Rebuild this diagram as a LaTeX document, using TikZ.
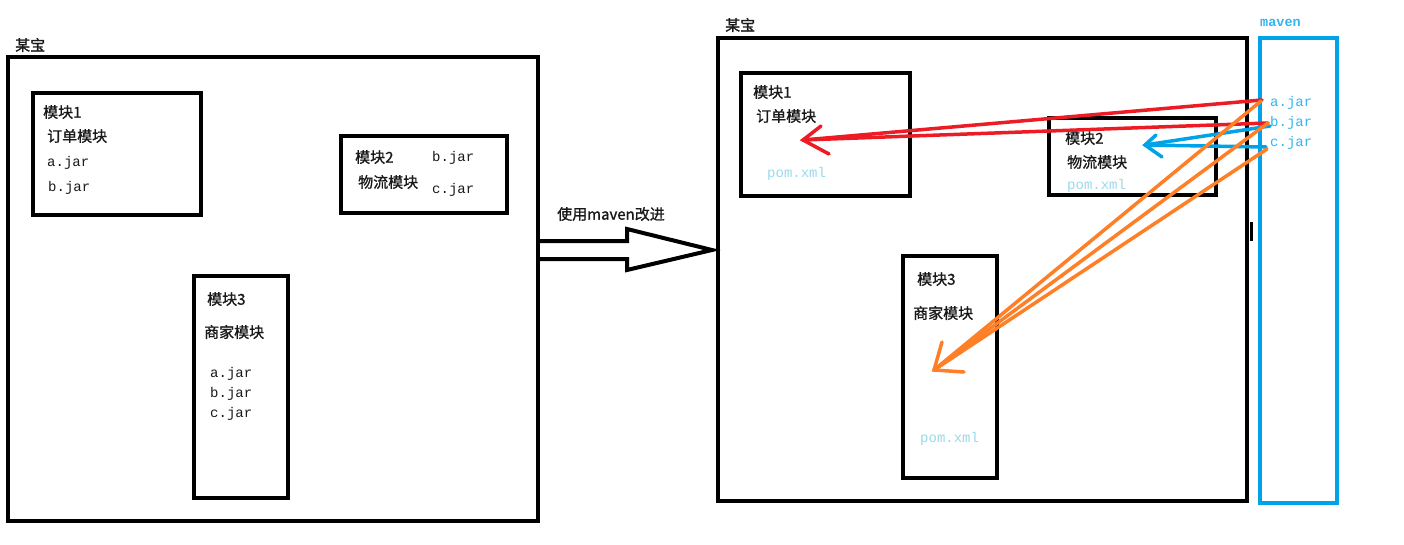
\documentclass[tikz,border=0pt]{standalone}
\usepackage{fontspec}
\newfontfamily\cjk[FakeBold=1.2]{Noto Sans CJK SC}
\setmonofont{Liberation Mono}
\definecolor{pred}{HTML}{ED1C24}
\definecolor{porange}{HTML}{FF7F27}
\definecolor{pblue}{HTML}{00A2E8}
\definecolor{plight}{HTML}{99D9EA}
\begin{document}
\begin{tikzpicture}[x=1pt,y=-1pt,
  box/.style={draw=black,line width=4pt,inner sep=0pt,outer sep=0pt},
  mbox/.style={draw=pblue,line width=4pt,inner sep=0pt,outer sep=0pt},
  zh/.style={anchor=west,inner sep=0pt,font=\cjk\fontsize{15}{16}\selectfont,text=black!90},
  jar/.style={anchor=west,inner sep=0pt,font=\ttfamily\fontsize{14}{16}\selectfont,text=black!90},
  pom/.style={anchor=west,inner sep=0pt,font=\ttfamily\fontsize{14}{16}\selectfont,text=plight},
  mjar/.style={anchor=west,inner sep=0pt,font=\ttfamily\fontsize{14}{16}\selectfont,text=pblue!80},
  redl/.style={draw=pred,line width=3.5pt,line cap=round},
  bluel/.style={draw=pblue,line width=3.5pt,line cap=round},
  orangel/.style={draw=porange,line width=3.5pt,line cap=round}]
\useasboundingbox (0,0) rectangle (1404,544);
% ---------- left side ----------
\node[zh] (lt) at (15,45) {某宝};
\node[box,minimum width=530pt,minimum height=464pt] (lout) at (273,289) {};
\node[box,minimum width=168pt,minimum height=122pt] (lm1) at (117,154) {};
\node[zh] (lm1a) at (43,112) {模块1};
\node[zh] (lm1b) at (47,136) {订单模块};
\node[jar] (lm1c) at (47,163) {a.jar};
\node[jar] (lm1d) at (48,188) {b.jar};
\node[box,minimum width=166pt,minimum height=77pt] (lm2) at (424,174.5) {};
\node[zh] (lm2a) at (355,157) {模块2};
\node[zh] (lm2b) at (358,182) {物流模块};
\node[jar] (lm2c) at (432,158) {b.jar};
\node[jar] (lm2d) at (432,190) {c.jar};
\node[box,minimum width=94pt,minimum height=222pt] (lm3) at (241,387) {};
\node[zh] (lm3a) at (207,299) {模块3};
\node[zh] (lm3b) at (204,332) {商家模块};
\node[jar] (lm3c) at (210,374) {a.jar};
\node[jar] (lm3d) at (210,394) {b.jar};
\node[jar] (lm3e) at (210,414) {c.jar};
% ---------- middle arrow ----------
\node[zh] (mid) at (557,214) {使用maven改进};
\draw[line width=4pt,line join=miter] (540,241) -- (627,241) -- (627,229) -- (712,250) -- (627,270) -- (627,259) -- (540,259);
% ---------- right side ----------
\node[zh] (rt) at (725,25) {某宝};
\node[box,minimum width=529pt,minimum height=463pt] (rout) at (982.5,269.5) {};
\draw[line width=3pt] (1251,222) -- (1251,241);
\node[box,minimum width=169pt,minimum height=123pt] (rm1) at (825.5,134.5) {};
\node[zh] (rm1a) at (753,92) {模块1};
\node[zh] (rm1b) at (756,116) {订单模块};
\node[pom] (rm1c) at (767,174) {pom.xml};
\node[box,minimum width=167pt,minimum height=77pt] (rm2) at (1132.5,156.5) {};
\node[zh] (rm2a) at (1065,138) {模块2};
\node[zh] (rm2b) at (1067,162) {物流模块};
\node[pom] (rm2c) at (1067,186) {pom.xml};
\node[box,minimum width=94pt,minimum height=222pt] (rm3) at (950,367) {};
\node[zh] (rm3a) at (917,279) {模块3};
\node[zh] (rm3b) at (913,313) {商家模块};
\node[pom] (rm3c) at (920,439) {pom.xml};
% ---------- maven ----------
\node[anchor=west,inner sep=0pt,font=\ttfamily\bfseries\fontsize{13.5}{16}\selectfont,text=pblue!80] (mv) at (1260,23) {maven};
\node[mbox,minimum width=77pt,minimum height=465pt] (mbx) at (1298.5,270.5) {};
\node[mjar] (ja) at (1270,103) {a.jar};
\node[mjar] (jb) at (1270,123) {b.jar};
\node[mjar] (jc) at (1270,143) {c.jar};
% connector ends
\coordinate (ra) at (1262,100);
\coordinate (rb) at (1268,123);
\coordinate (redtip) at (803,140);
\coordinate (bb) at (1270,126);
\coordinate (bc) at (1266,147);
\coordinate (bluetip) at (1145,145);
\coordinate (oa) at (1261,101);
\coordinate (ob) at (1268,123);
\coordinate (oc) at (1267,149);
\coordinate (otip) at (934,370);
% red
\draw[redl] (ra) -- (redtip);
\draw[redl] (rb) -- (redtip);
\draw[redl] (821,126) -- (redtip) -- (829,154);
% blue
\draw[bluel] (bb) -- (bluetip);
\draw[bluel] (bc) -- (bluetip);
\draw[bluel] (1156,135) -- (bluetip) -- (1162,157);
% orange
\draw[orangel] (oa) -- (otip);
\draw[orangel] (ob) -- (otip);
\draw[orangel] (oc) -- (otip);
\draw[orangel] (942,342) -- (otip) -- (964,372);
\end{tikzpicture}
\end{document}
